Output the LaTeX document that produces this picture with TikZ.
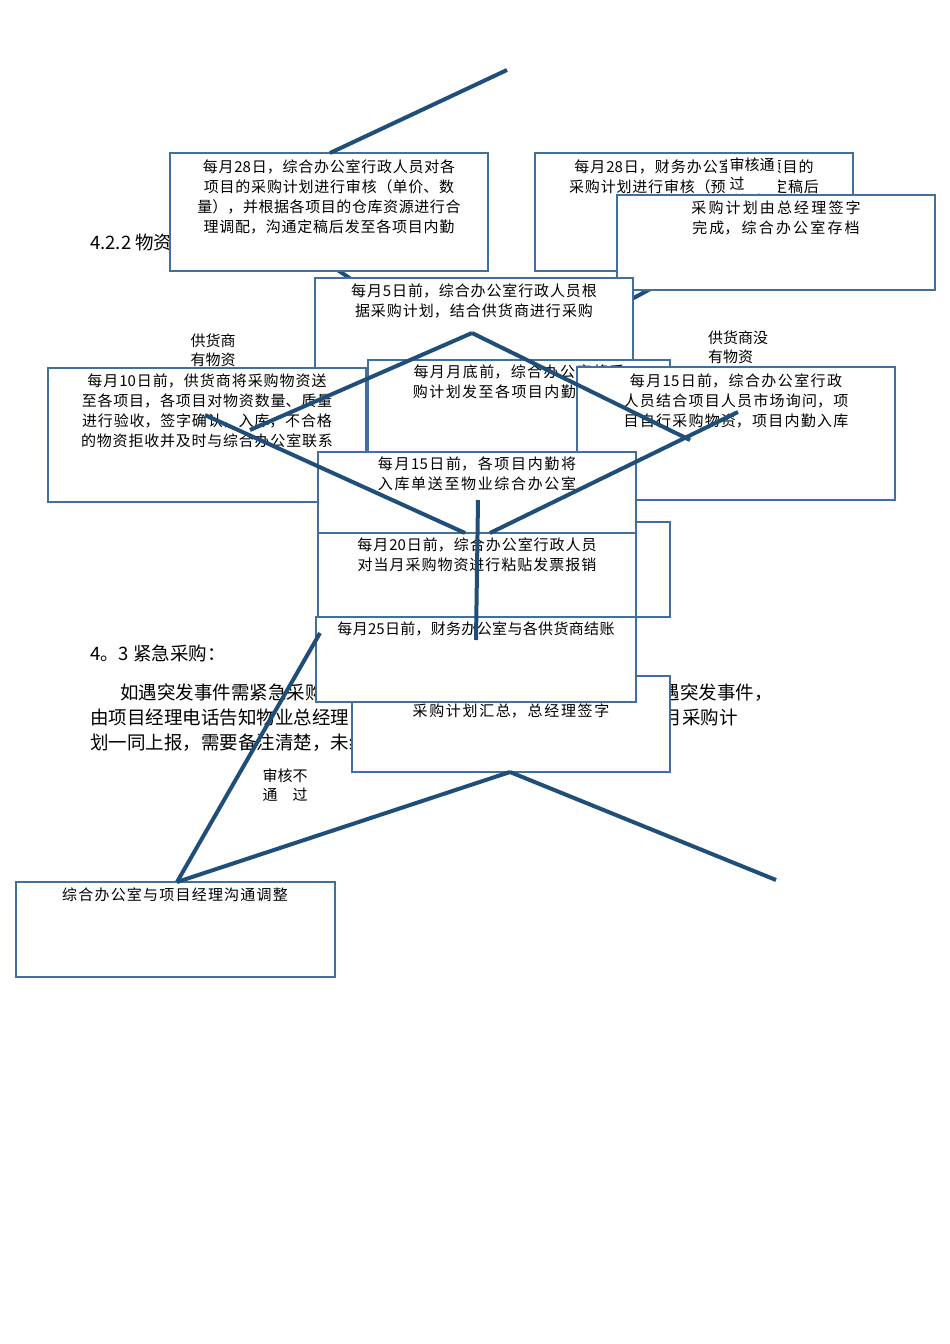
\documentclass[tikz,border=0pt]{standalone}
\usepackage{fontspec}
\setmainfont{Noto Sans CJK SC}
\XeTeXlinebreaklocale "zh"
\XeTeXlinebreakskip=0pt plus 1pt
\begin{document}
\begin{tikzpicture}[x=1pt,y=-1pt,
  bx/.style={draw=boxc,line width=2.6pt,fill=white},
  tx/.style={text width=298pt,align=center,font=\fontsize{15}{20}\selectfont,anchor=north,inner sep=0pt},
  ln/.style={draw=linec,line width=4pt},
  lb/.style={fill=white,align=center,font=\fontsize{15}{19}\selectfont,inner sep=1pt},
  pt/.style={anchor=west,font=\fontsize{18.5}{20}\selectfont,inner sep=0pt}]
\definecolor{boxc}{HTML}{41709C}
\definecolor{linec}{HTML}{1F4E79}
\useasboundingbox (0,0) rectangle (950,1344);
% background document text
\node[pt] (t1) at (90,242) {4.2.2 物资采购流程：};
\node[pt] (t2) at (90,653) {4。3 紧急采购：};
\node[pt] (p1) at (120,693) {如遇突发事件需紧急采购的，综合办公室根据各项目设定放行额度.遇突发事件，};
\node[pt] (p2) at (90,718) {由项目经理电话告知物业总经理，经同意后可自行采购，采购后可随次月采购计};
\node[pt] (p3) at (90,743) {划一同上报，需要备注清楚，未经同意不得采购。};
% hidden connectors
\draw[ln] (330,265) -- (360,285);
\draw[ln] (700,262) -- (630,300);
% boxes
\draw[bx] (535,153) rectangle (853,271);
\node[tx] (b) at (694,160) {每月28日，财务办公室对各项目的采购计划进行审核（预算），定稿后};
\draw[bx] (617,195) rectangle (935,290);
\node[tx] (c) at (776,201) {采购计划由总经理签字完成，综合办公室存档};
\draw[bx] (170,153) rectangle (488,271);
\node[tx] (a) at (329,160) {每月28日，综合办公室行政人员对各项目的采购计划进行审核（单价、数量），并根据各项目的仓库资源进行合理调配，沟通定稿后发至各项目内勤};
\draw[bx] (315,278) rectangle (633,460);
\node[tx] (d) at (474,284) {每月5日前，综合办公室行政人员根据采购计划，结合供货商进行采购};
\draw[bx] (368,360) rectangle (670,460);
\node[tx] (f) at (519,365) {每月月底前，综合办公室将采购计划发至各项目内勤和财务};
\draw[bx] (350,522) rectangle (670,617);
\node[tx] (j) at (510,529) {每月底前，综合办公室将次月采购计划汇总，总经理签字购物};
\draw[bx] (352,676) rectangle (670,772);
\node[tx] (k) at (511,704) {采购计划汇总，总经理签字};
\draw[bx] (48,368) rectangle (366,502);
\node[tx] (l) at (207,374) {每月10日前，供货商将采购物资送至各项目，各项目对物资数量、质量进行验收，签字确认，入库，不合格的物资拒收并及时与综合办公室联系};
\draw[bx] (577,367) rectangle (895,500);
\node[tx] (m) at (736,374) {每月15日前，综合办公室行政人员结合项目人员市场询问，项目自行采购物资，项目内勤入库};
\draw[bx] (318,452) rectangle (636,533);
\node[tx] (g) at (477,457) {每月15日前，各项目内勤将入库单送至物业综合办公室};
\draw[bx] (318,533) rectangle (636,617);
\node[tx] (h) at (477,538) {每月20日前，综合办公室行政人员对当月采购物资进行粘贴发票报销};
\draw[bx] (316,617) rectangle (636,702);
\node[tx] (i) at (476,622) {每月25日前，财务办公室与各供货商结账};
\draw[bx] (16,882) rectangle (335,977);
\node[tx] (n) at (175,888) {综合办公室与项目经理沟通调整};
% labels
\node[lb,align=left,inner sep=3pt] (l1) at (752,174) {审核通\\过};
\node[lb] (l2) at (213,350) {供货商\\有物资};
\node[lb,align=left] (l3) at (738,347) {供货商没\\有物资};
% visible connectors
\coordinate (top) at (507,70);
\coordinate (apex) at (472,333);
\coordinate (lx) at (205,415);
\coordinate (rx) at (738,412);
\coordinate (lx2) at (250,430);
\coordinate (rx2) at (690,440);
\coordinate (kb) at (510,772);
\coordinate (ne) at (776,880);
\coordinate (nn) at (177,882);
\draw[ln] (top) -- (330,153);
\draw[ln] (apex) -- (lx2);
\draw[ln] (apex) -- (rx2);
\draw[ln] (lx) -- (465,533);
\draw[ln] (rx) -- (490,533);
\draw[ln] (478,500) -- (476,640);
\draw[ln] (320,633) -- (nn);
\draw[ln] (kb) -- (nn);
\draw[ln] (kb) -- (ne);
\node[lb,fill=none] (l4) at (285,785) {审核不\\通\quad 过};
\end{tikzpicture}
\end{document}
